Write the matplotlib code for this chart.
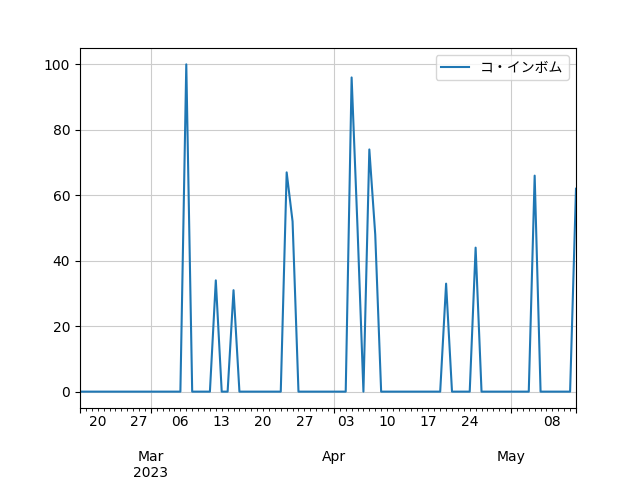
import pandas as pd
import matplotlib
matplotlib.use("Agg")
import matplotlib.pyplot as plt

plt.rcParams['font.family'] = ['DejaVu Sans']

start = "2023-02-17"
end = "2023-05-12"
spike_dates = ["2023-03-07", "2023-03-12", "2023-03-15", "2023-03-24", "2023-03-25",
               "2023-04-04", "2023-04-05", "2023-04-07", "2023-04-08",
               "2023-04-20", "2023-04-25", "2023-05-05", "2023-05-12"]
spike_values = [100, 34, 31, 67, 52, 96, 50, 74, 48, 33, 44, 66, 62]

idx = pd.date_range(start, end, freq="D")
s = pd.Series(0, index=idx, name="コ・インボム")
s.loc[pd.to_datetime(spike_dates)] = spike_values

fig, ax = plt.subplots(figsize=(6.4, 4.8), dpi=100)
s.plot(ax=ax, color="#1f77b4")
ax.grid(True, which="major", color="#cccccc")
ax.set_xlabel("")
ax.legend(loc="upper right", prop={'family': ['Noto Sans CJK JP', 'DejaVu Sans']})
fig.subplots_adjust(left=0.125, right=0.9, top=0.9, bottom=0.15)
fig.savefig("out.png")
